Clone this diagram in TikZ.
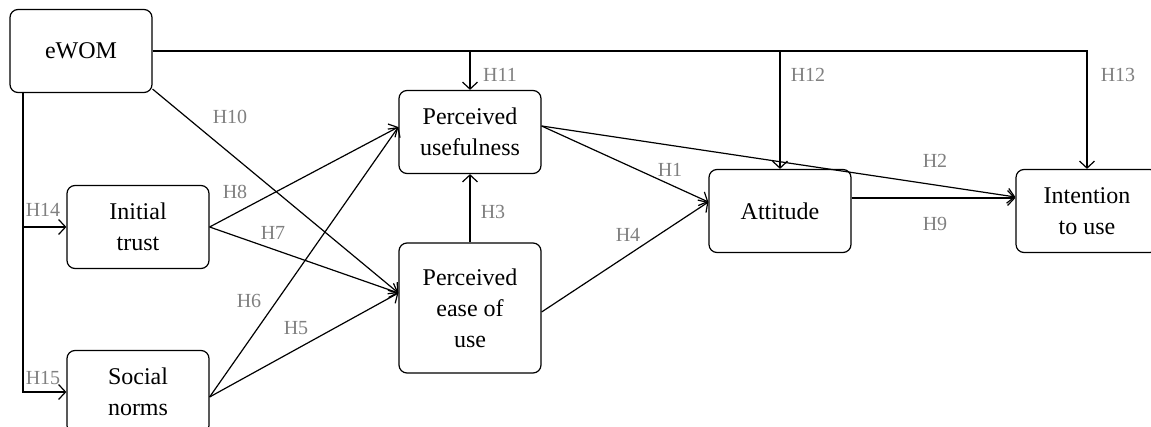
\documentclass[tikz,border=0pt]{standalone}
\usepackage{fontspec}
\setmainfont{Liberation Serif}
\usetikzlibrary{arrows.meta}
\usetikzlibrary{positioning}

\begin{document}
\begin{tikzpicture}[x = 0.5pt, y = -0.5pt, line width = 0.6pt,
  >= {Straight Barb[length=3.5pt, width=7.5pt]},
  box/.style = {draw, rounded corners = 4pt, minimum width = 71pt,
                minimum height = 41.5pt, align = center,
                font = \fontsize{12}{15.5}\selectfont},
  hyp/.style = {text = black!50, font = \fontsize{10}{12}\selectfont}]
\clip (0,0) rectangle (1151,427);

\node[box] (ewom)  at (81,51)    {eWOM};
\node[box] (trust) at (138,227)  {Initial\\trust};
\node[box] (norms) at (138,392)  {Social\\norms};
\node[box] (pu)    at (470,132)  {Perceived\\usefulness};
\node[box, minimum height = 65pt] (peu) at (470,308) {Perceived\\ease of\\use};
\node[box] (att)   at (780,211)  {Attitude};
\node[box] (int)   at (1087,211) {Intention\\to use};

\coordinate (left) at (23,92);

% eWOM paths along the top and the left side
\draw[->] (ewom.east) -| (int.north);
\draw[->] (ewom.east -| pu.north) -- (pu.north);
\draw[->] (ewom.east -| att.north) -- (att.north);
\draw[->] (left) |- (norms.west);
\draw[->] (left |- trust.west) -- (trust.west);

% hypotheses
\path[->] ([yshift=2pt]ewom.south east) edge ([yshift=7.5pt]peu.west)
          (trust.east) edge ([yshift=2.5pt]pu.west)
                       edge ([yshift=7.5pt]peu.west)
          ([yshift=-2.5pt]norms.east) edge ([yshift=2.5pt]pu.west)
                                      edge ([yshift=7.5pt]peu.west)
          (peu.north) edge (pu.south)
          ([yshift=3pt]pu.east) edge ([yshift=4.5pt]att.west)
                                edge ([yshift=7pt]int.west)
          ([yshift=-2pt]peu.east) edge ([yshift=4.5pt]att.west)
          ([yshift=6.5pt]att.east) edge ([yshift=6.5pt]int.west);

\node[hyp] (h1)  at (670,170)  {H1};
\node[hyp] (h2)  at (935,161)  {H2};
\node[hyp] (h3)  at (493,212)  {H3};
\node[hyp] (h4)  at (628,235)  {H4};
\node[hyp] (h5)  at (296,328)  {H5};
\node[hyp] (h6)  at (249,301)  {H6};
\node[hyp] (h7)  at (273,233)  {H7};
\node[hyp] (h8)  at (235,192)  {H8};
\node[hyp] (h9)  at (935,224)  {H9};
\node[hyp] (h10) at (230,117)  {H10};
\node[hyp] (h11) at (500,75)   {H11};
\node[hyp] (h12) at (808,75)   {H12};
\node[hyp] (h13) at (1118,75)  {H13};
\node[hyp] (h14) at (43,210)   {H14};
\node[hyp] (h15) at (43,378)   {H15};
\end{tikzpicture}
\end{document}
